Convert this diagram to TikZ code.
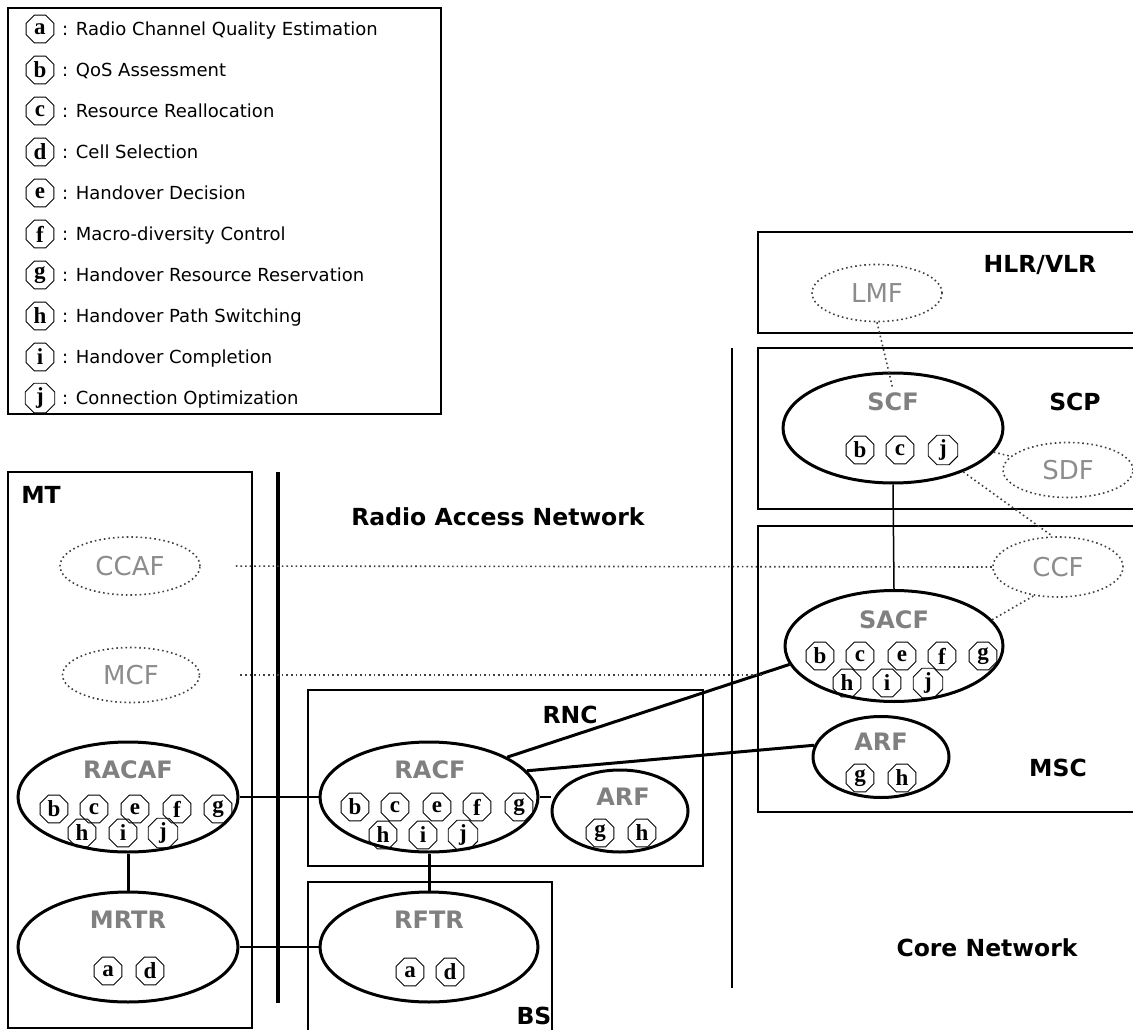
\documentclass[tikz,border=0pt]{standalone}
\usepackage{fontspec}
\setmainfont{DejaVu Sans}
\newfontfamily\octfont{Liberation Serif}
\usetikzlibrary{shapes.geometric}
\tikzset{
    box/.style={line width=1.5pt},
    sepline/.style={line width=3.2pt},
    func/.style={draw, ellipse, line width=3pt, inner sep=0pt},
    dfunc/.style={draw=black!75, ellipse, dash pattern=on 1.6pt off 3pt, line width=1.6pt, inner sep=0pt,
                  text=black!45, font=\fontsize{26}{26}\selectfont},
    fname/.style={text=black!50, font=\bfseries\fontsize{24}{24}\selectfont},
    oct/.style={draw, regular polygon, regular polygon sides=8, minimum size=30pt, inner sep=0pt,
                line width=0.9pt, font=\octfont\bfseries\fontsize{23}{23}\selectfont},
    legtxt/.style={anchor=west, inner sep=0pt, text height=13pt, text depth=0pt, font=\fontsize{18}{18}\selectfont},
    netlbl/.style={font=\bfseries\fontsize{23.5}{24}\selectfont},
    link/.style={line width=1.5pt},
    blink/.style={line width=3pt},
    dlink/.style={draw=black!75, line width=1.6pt, dash pattern=on 1.6pt off 3pt},
}

\begin{document}
\begin{tikzpicture}[x=1pt, y=-1pt]
    \useasboundingbox (0,0) rectangle (1133,1030);

    % Legend
    \draw[box] (8,8) rectangle (441,414);
    \node[oct] (la) at (40,29) {a};
    \node[legtxt] (ta) at (62,29) {: Radio Channel Quality Estimation};
    \node[oct] (lb) at (40,70) {b};
    \node[legtxt] (tb) at (62,70) {: QoS Assessment};
    \node[oct] (lc) at (40,111) {c};
    \node[legtxt] (tc) at (62,111) {: Resource Reallocation};
    \node[oct] (ld) at (40,152) {d};
    \node[legtxt] (td) at (62,152) {: Cell Selection};
    \node[oct] (le) at (40,193) {e};
    \node[legtxt] (te) at (62,193) {: Handover Decision};
    \node[oct] (lf) at (40,234) {f};
    \node[legtxt] (tf) at (62,234) {: Macro-diversity Control};
    \node[oct] (lg) at (40,275) {g};
    \node[legtxt] (tg) at (62,275) {: Handover Resource Reservation};
    \node[oct] (lh) at (40,316) {h};
    \node[legtxt] (th) at (62,316) {: Handover Path Switching};
    \node[oct] (li) at (40,357) {i};
    \node[legtxt] (ti) at (62,357) {: Handover Completion};
    \node[oct] (lj) at (40,398) {j};
    \node[legtxt] (tj) at (62,398) {: Connection Optimization};

    % Separators and network labels
    \draw[sepline] (278,472) -- (278,1003);
    \draw[box] (732,348) -- (732,988);
    \node[netlbl] (ran) at (498,517) {Radio Access Network};
    \node[netlbl] (cn) at (987,948) {Core Network};

    % HLR/VLR
    \draw[box] (1134,232) -| (758,333) -- (1134,333);
    \node[netlbl] (hlr) at (1040,265) {HLR/VLR};
    \node[dfunc, minimum width=130pt, minimum height=57pt] (lmf) at (877,293) {LMF};

    % SCP
    \draw[box] (1134,348) -| (758,509) -- (1134,509);
    \node[netlbl] (scp) at (1075,402) {SCP};
    \node[func, minimum width=220pt, minimum height=110pt] (scf) at (893,428) {};
    \node[fname] (scft) at (893,402) {SCF};
    \node[oct] (scfb) at (860,450) {b};
    \node[oct] (scfc) at (900,450) {c};
    \node[oct] (scfj) at (943,450) {j};
    \node[dfunc, minimum width=130pt, minimum height=55pt] (sdf) at (1068,470) {SDF};

    % MSC
    \draw[box] (1134,526) -| (758,812) -- (1134,812);
    \node[netlbl] (msc) at (1058,768) {MSC};
    \node[dfunc, minimum width=130pt, minimum height=60pt] (ccf) at (1058,567) {CCF};
    \node[func, minimum width=218pt, minimum height=111pt] (sacf) at (894,646) {};
    \node[fname] (sacft) at (894,620) {SACF};
    \node[oct] (sacfb) at (820,656) {b};
    \node[oct] (sacfc) at (860,656) {c};
    \node[oct] (sacfe) at (902,656) {e};
    \node[oct] (sacff) at (942,656) {f};
    \node[oct] (sacfg) at (983,656) {g};
    \node[oct] (sacfh) at (847,683) {h};
    \node[oct] (sacfi) at (887,683) {i};
    \node[oct] (sacfj) at (928,683) {j};
    \node[func, minimum width=136pt, minimum height=81pt] (arfc) at (881,757) {};
    \node[fname] (arfct) at (881,742) {ARF};
    \node[oct] (arfcg) at (860,778) {g};
    \node[oct] (arfch) at (902,778) {h};

    % RNC
    \draw[box] (308,690) rectangle (703,866);
    \node[netlbl] (rnc) at (570,715) {RNC};
    \node[func, minimum width=218pt, minimum height=110pt] (racf) at (429,797) {};
    \node[fname] (racft) at (430,770) {RACF};
    \node[oct] (racfb) at (355,807) {b};
    \node[oct] (racfc) at (395,807) {c};
    \node[oct] (racfe) at (437,807) {e};
    \node[oct] (racff) at (477,807) {f};
    \node[oct] (racfg) at (519,807) {g};
    \node[oct] (racfh) at (383,835) {h};
    \node[oct] (racfi) at (423,835) {i};
    \node[oct] (racfj) at (463,835) {j};
    \node[func, minimum width=136pt, minimum height=82pt] (arfr) at (620,811) {};
    \node[fname] (arfrt) at (623,797) {ARF};
    \node[oct] (arfrg) at (600,833) {g};
    \node[oct] (arfrh) at (642,833) {h};

    % BS
    \draw[box] (308,1031) |- (552,882) -- (552,1031);
    \node[netlbl] (bs) at (534,1016) {BS};
    \node[func, minimum width=218pt, minimum height=110pt] (rftr) at (429,947) {};
    \node[fname] (rftrt) at (429,920) {RFTR};
    \node[oct] (rftra) at (410,972) {a};
    \node[oct] (rftrd) at (450,972) {d};

    % MT
    \draw[box] (8,472) rectangle (252,1028);
    \node[netlbl] (mt) at (41,495) {MT};
    \node[dfunc, minimum width=140pt, minimum height=58pt] (ccaf) at (130,566) {CCAF};
    \node[dfunc, minimum width=137pt, minimum height=55pt] (mcf) at (131,675) {MCF};
    \node[func, minimum width=220pt, minimum height=110pt] (racaf) at (128,797) {};
    \node[fname] (racaft) at (128,770) {RACAF};
    \node[oct] (racafb) at (54,809) {b};
    \node[oct] (racafc) at (94,809) {c};
    \node[oct] (racafe) at (135,809) {e};
    \node[oct] (racaff) at (177,809) {f};
    \node[oct] (racafg) at (218,809) {g};
    \node[oct] (racafh) at (82,833) {h};
    \node[oct] (racafi) at (123,833) {i};
    \node[oct] (racafj) at (163,833) {j};
    \node[func, minimum width=220pt, minimum height=110pt] (mrtr) at (128,947) {};
    \node[fname] (mrtrt) at (128,920) {MRTR};
    \node[oct] (mrtra) at (108,971) {a};
    \node[oct] (mrtrd) at (150,971) {d};

    % Solid links
    \draw[link] (racaf.east) -- (racf.west);
    \draw[link] (mrtr.east) -- (rftr.west);
    \draw[link] (racf.east) -- (racf.east -| arfr.west);
    \draw[link] (scf.south) -- (sacf.north);
    \draw[blink] (racaf.south) -- (mrtr.north);
    \draw[blink] (racf.south) -- (rftr.north);
    \draw[blink] (racf.27) -- (sacf.190);
    \draw[blink] (racf.15) -- (arfc.170);

    % Dotted links
    \draw[dlink] (lmf.south) -- (scft.north);
    \draw[dlink] (scf) -- (sdf);
    \draw[dlink] (scf.-32) -- (ccf.100);
    \draw[dlink] (sacf.15) -- (ccf.-130);
    \draw[dlink, shorten <=35pt] (ccaf.east) -- (ccf.west);
    \draw[dlink, shorten <=40pt, shorten >=20pt] (mcf.east) -- (mcf.east -| sacf.west);
\end{tikzpicture}
\end{document}
